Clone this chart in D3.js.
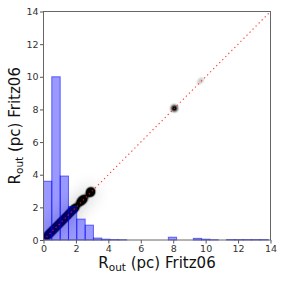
<!DOCTYPE html>
<html>
<head>
<meta charset="utf-8">
<script src="https://cdn.jsdelivr.net/npm/d3@7"></script>
<style>
  body { margin: 0; background: #fff; }
  text { font-family: "DejaVu Sans", sans-serif; }
</style>
</head>
<body>
<script>
const W = 283, H = 283;

// ----- DATA -----
const ticks = [0, 2, 4, 6, 8, 10, 12, 14];
const binEdges = [0.00, 0.51, 1.03, 1.54, 2.05, 2.57, 3.08, 3.59, 4.10, 4.62, 5.13, 5.64, 6.16, 6.67,
  7.18, 7.70, 8.21, 8.72, 9.24, 9.75, 10.26, 10.78, 11.29, 11.80, 12.32, 12.83, 13.34, 13.86];
const binCounts = [3.6, 10.0, 3.92, 2.05, 1.28, 0.91, 0.12, 0.05, 0.03, 0.02, 0, 0, 0, 0,
  0, 0.17, 0, 0, 0.1, 0.05, 0.02, 0, 0.03, 0.03, 0.03, 0.03, 0.03];
// individual sources (x = y ~ Fritz06 radius)
const ptX = [0.15, 0.22, 0.28, 0.34, 0.40, 0.46, 0.52, 0.58, 0.64, 0.70, 0.76, 0.82, 0.88, 0.94,
  1.00, 1.06, 1.12, 1.18, 1.24, 1.30, 1.36, 1.42, 1.48, 1.54, 1.60, 1.66, 1.72, 1.78, 1.84, 1.90,
  1.96, 2.02, 2.22, 2.30, 2.38, 2.46, 2.52, 2.84, 2.90, 2.96, 8.07, 9.76, 9.62, 9.48];
const ptY = [0.18, 0.24, 0.31, 0.36, 0.43, 0.48, 0.55, 0.60, 0.67, 0.72, 0.79, 0.84, 0.91, 0.96,
  1.03, 1.08, 1.15, 1.20, 1.27, 1.32, 1.39, 1.44, 1.51, 1.56, 1.63, 1.68, 1.75, 1.80, 1.87, 1.92,
  1.99, 2.04, 2.28, 2.35, 2.43, 2.50, 2.56, 2.88, 2.94, 2.99, 8.07, 9.82, 9.70, 9.55];
const ptW = [1, 1, 1, 1, 1, 1, 1, 1, 1, 1, 1, 1, 1, 1,
  1, 1, 1, 1, 1, 1, 1, 1, 1, 1, 1, 1, 1, 1, 1, 1,
  1, 1, 1.3, 1.3, 1.3, 1.3, 1.3, 1.8, 1.8, 1.8, 1.8, 0.35, 0.25, 0.15];
const oneToOne = [0, 14];

// ----- SCALES -----
const x = d3.scaleLinear().domain([0, 14]).range([43.5, 270.5]);
const y = d3.scaleLinear().domain([0, 14]).range([240, 11.5]);

const svg = d3.select("body").append("svg")
  .attr("width", W).attr("height", H);

const defs = svg.append("defs");
defs.append("clipPath").attr("id", "clip")
  .append("rect").attr("x", x(0)).attr("y", y(14))
  .attr("width", x(14) - x(0)).attr("height", y(0) - y(14));
defs.append("filter").attr("id", "soft")
  .append("feGaussianBlur").attr("stdDeviation", 0.5);

const pts = ptX.map((d, i) => ({x: d, y: ptY[i], w: ptW[i]}));

// ----- DENSITY (halo + core) -----
const dens = svg.append("g").attr("clip-path", "url(#clip)");

// diffuse glow only around the main clump
const halo = d3.contourDensity()
  .x(d => x(d.x)).y(d => y(d.y)).weight(d => d.w)
  .size([W, H]).cellSize(2).bandwidth(8).thresholds(30)(pts.filter(d => d.x < 4));
const haloMax = d3.max(halo, c => c.value);
dens.append("g").attr("filter", "url(#soft)")
  .selectAll("path").data(halo).enter().append("path")
  .attr("d", d3.geoPath())
  .attr("fill", c => d3.interpolateGreys(0.26 * c.value / haloMax));

const core = d3.contourDensity()
  .x(d => x(d.x)).y(d => y(d.y)).weight(d => d.w)
  .size([W, H]).cellSize(1).bandwidth(2.3).thresholds(50)(pts);
const coreMax = d3.max(core, c => c.value);
const coreCol = d3.scaleSequential(d3.interpolateGreys).domain([0, coreMax * 0.3]).clamp(true);
dens.append("g").attr("filter", "url(#soft)")
  .selectAll("path").data(core.filter(c => c.value > coreMax * 0.02)).enter().append("path")
  .attr("d", d3.geoPath())
  .attr("fill", c => coreCol(c.value))
  .attr("fill-opacity", c => Math.min(1, c.value / (coreMax * 0.06)));

// ----- HISTOGRAM -----
svg.append("g").selectAll("rect").data(binCounts).enter().append("rect")
  .attr("x", (d, i) => x(binEdges[i]))
  .attr("y", d => y(d))
  .attr("width", (d, i) => x(binEdges[i + 1]) - x(binEdges[i]))
  .attr("height", d => y(0) - y(d))
  .attr("fill", "blue").attr("fill-opacity", 0.4)
  .attr("stroke", "blue").attr("stroke-opacity", 0.55).attr("stroke-width", 1);

// ----- 1:1 LINE -----
svg.append("line")
  .attr("x1", x(oneToOne[0])).attr("y1", y(oneToOne[0]))
  .attr("x2", x(oneToOne[1])).attr("y2", y(oneToOne[1]))
  .attr("stroke", "#ff1a1a").attr("stroke-opacity", 0.85)
  .attr("stroke-width", 1.1).attr("stroke-dasharray", "1.3,3");

// ----- AXES -----
const xAxis = d3.axisBottom(x).tickValues(ticks).tickSize(3.5).tickPadding(1.5);
const yAxis = d3.axisLeft(y).tickValues(ticks).tickSize(3.5).tickPadding(1.5);

const gx = svg.append("g").attr("transform", `translate(0,${y(0)})`).call(xAxis);
const gy = svg.append("g").attr("transform", `translate(${x(0)},0)`).call(yAxis);
[gx, gy].forEach(g => {
  g.select(".domain").remove();
  g.selectAll("line").attr("stroke", "#555");
  g.selectAll("text").attr("font-size", "9.5px").attr("fill", "#333")
    .attr("font-family", "DejaVu Sans");
});

// frame
svg.append("rect")
  .attr("x", x(0)).attr("y", y(14))
  .attr("width", x(14) - x(0)).attr("height", y(0) - y(14))
  .attr("fill", "none").attr("stroke", "#666").attr("stroke-width", 1);

// ----- LABELS -----
function label(sel) {
  sel.append("tspan").text("R");
  sel.append("tspan").text("out").attr("font-size", "10.5px").attr("dy", 3.5);
  sel.append("tspan").text(" (pc) Fritz06").attr("dy", -3.5);
}
svg.append("text")
  .attr("x", (x(0) + x(14)) / 2).attr("y", 267.5)
  .attr("text-anchor", "middle").attr("font-size", "15px").attr("fill", "#111")
  .call(label);
svg.append("text")
  .attr("transform", `translate(19.5,${(y(0) + y(14)) / 2}) rotate(-90)`)
  .attr("text-anchor", "middle").attr("font-size", "15px").attr("fill", "#111")
  .call(label);
</script>
</body>
</html>
